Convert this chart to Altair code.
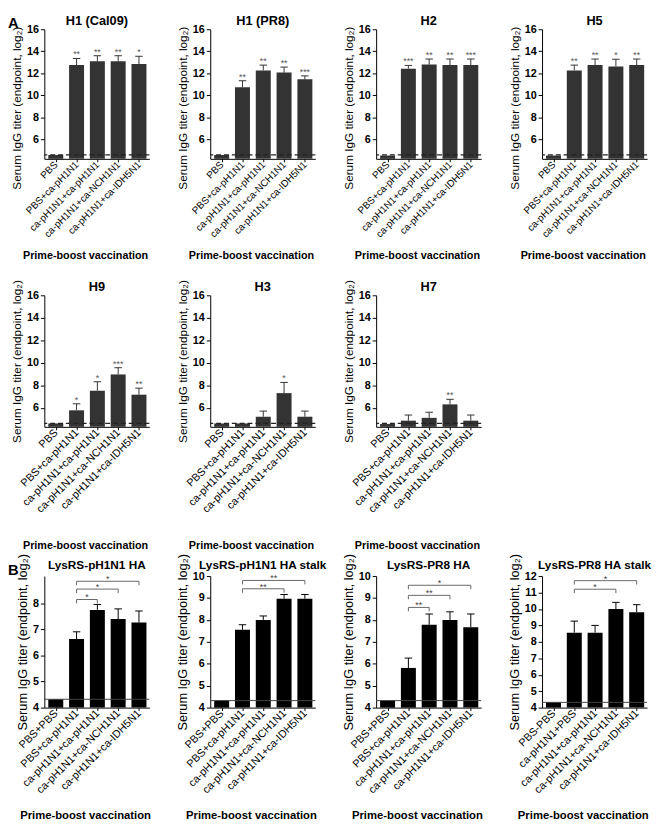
import altair as alt
import pandas as pd

FONT = "Liberation Sans"

# ---------------- data ----------------
CATS_A = ["PBS", "PBS+ca-pH1N1", "ca-pH1N1+ca-pH1N1", "ca-pH1N1+ca-NCH1N1", "ca-pH1N1+ca-IDH5N1"]
CATS_B = ["PBS+PBS", "PBS+ca-pH1N1", "ca-pH1N1+ca-pH1N1", "ca-pH1N1+ca-NCH1N1", "ca-pH1N1+ca-IDH5N1"]
CATS_B4 = ["PBS-PBS", "ca-pH1N1+PBS", "ca-pH1N1+ca-pH1N1", "ca-pH1N1+ca-NCH1N1", "ca-pH1N1+ca-IDH5N1"]

TITLES_A = ["H1 (Cal09)", "H1 (PR8)", "H2", "H5", "H9", "H3", "H7"]
MEANS_A = [
    [4.6, 12.75, 13.1, 13.1, 12.85],
    [4.6, 10.73, 12.27, 12.07, 11.47],
    [4.55, 12.42, 12.8, 12.75, 12.75],
    [4.55, 12.27, 12.75, 12.63, 12.75],
    [4.6, 5.77, 7.51, 8.96, 7.16],
    [4.6, 4.6, 5.2, 7.3, 5.2],
    [4.55, 4.85, 5.1, 6.3, 4.85],
]
ERRS_A = [
    [0, 0.6, 0.5, 0.5, 0.7],
    [0, 0.6, 0.48, 0.5, 0.3],
    [0, 0.3, 0.5, 0.55, 0.55],
    [0, 0.48, 0.55, 0.65, 0.55],
    [0, 0.58, 0.8, 0.6, 0.58],
    [0, 0, 0.5, 0.95, 0.5],
    [0, 0.5, 0.5, 0.45, 0.5],
]
STARS_A = [
    ["", "**", "**", "**", "*"],
    ["", "**", "**", "**", "***"],
    ["", "***", "**", "**", "***"],
    ["", "**", "**", "*", "**"],
    ["", "*", "*", "***", "**"],
    ["", "", "", "*", ""],
    ["", "", "", "**", ""],
]
LOD_A = 4.6
YDOM_A1 = [4.25, 16]
YDOM_A2 = [4.3, 16]
YTICKS_A = [6, 8, 10, 12, 14, 16]

TITLES_B = ["LysRS-pH1N1 HA", "LysRS-pH1N1 HA stalk", "LysRS-PR8 HA", "LysRS-PR8 HA stalk"]
MEANS_B = [
    [4.32, 6.63, 7.75, 7.4, 7.27],
    [4.32, 7.55, 8.0, 8.97, 8.97],
    [4.32, 5.81, 7.78, 8.0, 7.67],
    [4.32, 8.56, 8.56, 10.0, 9.8],
]
ERRS_B = [
    [0, 0.28, 0.21, 0.39, 0.44],
    [0, 0.23, 0.18, 0.19, 0.19],
    [0, 0.45, 0.49, 0.37, 0.6],
    [0, 0.7, 0.44, 0.4, 0.46],
]
# significance brackets: (from index, to index, level, label)
BRACKETS_B = [
    [(1, 2, 8.15, "*"), (1, 3, 8.55, "*"), (1, 4, 8.85, "*")],
    [(1, 3, 9.42, "**"), (1, 4, 9.8, "**")],
    [(1, 2, 8.57, "**"), (1, 3, 9.12, "**"), (1, 4, 9.58, "*")],
    [(1, 3, 11.2, "*"), (1, 4, 11.72, "*")],
]
LOD_B = 4.32
YDOM_B = [[4, 9.05], [4, 10], [4, 10], [4, 12]]
YTICKS_B = [[4, 5, 6, 7, 8], [4, 5, 6, 7, 8, 9, 10], [4, 5, 6, 7, 8, 9, 10],
            [4, 5, 6, 7, 8, 9, 10, 11, 12]]

YTITLE = "Serum IgG titer (endpoint, log\u2082)"
XTITLE = "Prime-boost vaccination"

W = 107


def make_panel(title, cats, means, errs, stars, ydom, yticks, lod, kind,
               height, ytitle_shift, xlabel_size, xtitle_y, title_y,
               brackets=(), letter=None):
    isA = kind == "A"
    barcolor = "#333333" if isA else "#000000"
    df = pd.DataFrame({"i": list(range(len(cats))), "m": means, "e": errs,
                       "s": stars if stars else [""] * len(cats)})
    df["top"] = df["m"] + df["e"]

    xs = alt.Scale(domain=[-0.55, 4.5], nice=False, zero=False)
    ys = alt.Scale(domain=ydom, nice=False, zero=False)
    label_expr = "[" + ",".join("'" + c + "'" for c in cats) + "][datum.value]"
    xa = alt.Axis(values=list(range(len(cats))), labelExpr=label_expr,
                  labelAngle=-45, labelAlign="right", labelBaseline="middle",
                  labelFontSize=xlabel_size, labelFont=FONT,
                  labelColor="black", labelOverlap=False, labelFlush=False,
                  labelPadding=1, tickSize=3, tickColor="black",
                  domainColor="black", title=XTITLE,
                  titleFontSize=11 if isA else 11.5, titleFontWeight="bold",
                  titleFont=FONT, titleColor="black", titleY=xtitle_y,
                  titleBaseline="middle", titleX=W / 2 - 12, grid=False)
    ya = alt.Axis(values=yticks, labelFontWeight="bold", labelFontSize=11,
                  labelFont=FONT, labelColor="black", tickSize=4,
                  tickColor="black", domainColor="black", labelPadding=2,
                  title=YTITLE, titleFont=FONT, titleFontWeight="normal",
                  titleFontSize=12 if isA else 13, titleColor="black",
                  titlePadding=3, titleY=height / 2 + ytitle_shift, grid=False)

    def X(f):
        return alt.X(f, type="quantitative", scale=xs, axis=xa)

    def Y(f):
        return alt.Y(f, type="quantitative", scale=ys, axis=ya)

    base = alt.Chart(df)
    bars = base.transform_calculate(
        x0="datum.i - 0.36", x1="datum.i + 0.36"
    ).mark_bar(color=barcolor).encode(
        x=X("x0"), x2="x1", y=Y("m"), y2=alt.datum(ydom[0]))
    errdf = df[df["e"] > 0]
    err = alt.Chart(errdf).mark_rule(color=barcolor, strokeWidth=1).encode(
        x=X("i"), y=Y("m"), y2="top")
    cap = alt.Chart(errdf).transform_calculate(
        c0="datum.i - 0.18", c1="datum.i + 0.18"
    ).mark_rule(color=barcolor, strokeWidth=1).encode(
        x=X("c0"), x2="c1", y=Y("top"))
    lod_df = pd.DataFrame({"v": [lod]})
    if isA:
        lodrule = alt.Chart(lod_df).mark_rule(color="#222222", strokeWidth=1.3,
                                              strokeDash=[5, 3]).encode(y=Y("v"))
    else:
        lodrule = alt.Chart(lod_df).mark_rule(color="#444444",
                                              strokeWidth=1).encode(y=Y("v"))
    layers = [bars, lodrule, err, cap]
    sdf = df[df["s"] != ""]
    if len(sdf):
        layers.append(alt.Chart(sdf).mark_text(
            dy=1, baseline="bottom", fontSize=9, color="#555555", font=FONT
        ).encode(x=X("i"), y=Y("top"), text="s"))
    if brackets:
        drop = (ydom[1] - ydom[0]) * 4.0 / height
        bdf = pd.DataFrame({"a": [b[0] for b in brackets],
                            "b": [b[1] for b in brackets],
                            "lev": [b[2] for b in brackets],
                            "lab": [b[3] for b in brackets]})
        bdf["mid"] = (bdf["a"] + bdf["b"]) / 2
        bdf["lo"] = bdf["lev"] - drop
        bc = alt.Chart(bdf)
        layers.append(bc.mark_rule(color="#666666", strokeWidth=1).encode(
            x=X("a"), x2="b", y=Y("lev")))
        layers.append(bc.transform_fold(["a", "b"], as_=["k", "pos"]).mark_rule(
            color="#666666", strokeWidth=1).encode(x=X("pos:Q"), y=Y("lev"), y2="lo"))
        layers.append(bc.mark_text(dy=3, baseline="bottom", fontSize=9,
                                   color="#444444", font=FONT).encode(
            x=X("mid"), y=Y("lev"), text="lab"))
    # panel title
    layers.append(alt.Chart(pd.DataFrame({"t": [title]})).mark_text(
        align="center", baseline="bottom", fontSize=13 if isA else 12,
        fontWeight="bold", font=FONT, color="black"
    ).encode(x=alt.value(W / 2), y=alt.value(title_y), text="t"))
    if letter:
        layers.append(alt.Chart(pd.DataFrame({"t": [letter]})).mark_text(
            align="left", baseline="top", fontSize=15, fontWeight="bold",
            font=FONT, color="black"
        ).encode(x=alt.value(-37), y=alt.value(-13), text="t"))

    return alt.layer(*layers).properties(width=W, height=height)


panels = []
for k in range(4):
    panels.append(make_panel(TITLES_A[k], CATS_A, MEANS_A[k], ERRS_A[k], STARS_A[k],
                             YDOM_A1, YTICKS_A, LOD_A, "A", 132, 14, 10, 99, -1,
                             letter="A" if k == 0 else None))
for k in range(4, 7):
    panels.append(make_panel(TITLES_A[k], CATS_A, MEANS_A[k], ERRS_A[k], STARS_A[k],
                             YDOM_A2, YTICKS_A, LOD_A, "A", 134, 0, 11, 121, -1))
placeholder = alt.Chart(pd.DataFrame({"v": [0]})).mark_point(opacity=0).encode(
    x=alt.X("v:Q", axis=None), y=alt.Y("v:Q", axis=None)
).properties(width=W, height=147)
panels.append(placeholder)
for k in range(4):
    cats = CATS_B4 if k == 3 else CATS_B
    panels.append(make_panel(TITLES_B[k], cats, MEANS_B[k], ERRS_B[k], None,
                             YDOM_B[k], YTICKS_B[k], LOD_B, "B", 134, 0, 11, 110, -4,
                             brackets=BRACKETS_B[k],
                             letter="B" if k == 0 else None))

chart = alt.concat(
    *panels, columns=4, spacing={"row": 139, "column": 62},
    bounds="flush", align="each"
).properties(padding=0).configure_view(stroke=None).configure_axis(
    domainWidth=1, tickWidth=1
)

chart.save("out.html", embed_options={"renderer": "svg", "actions": False})
